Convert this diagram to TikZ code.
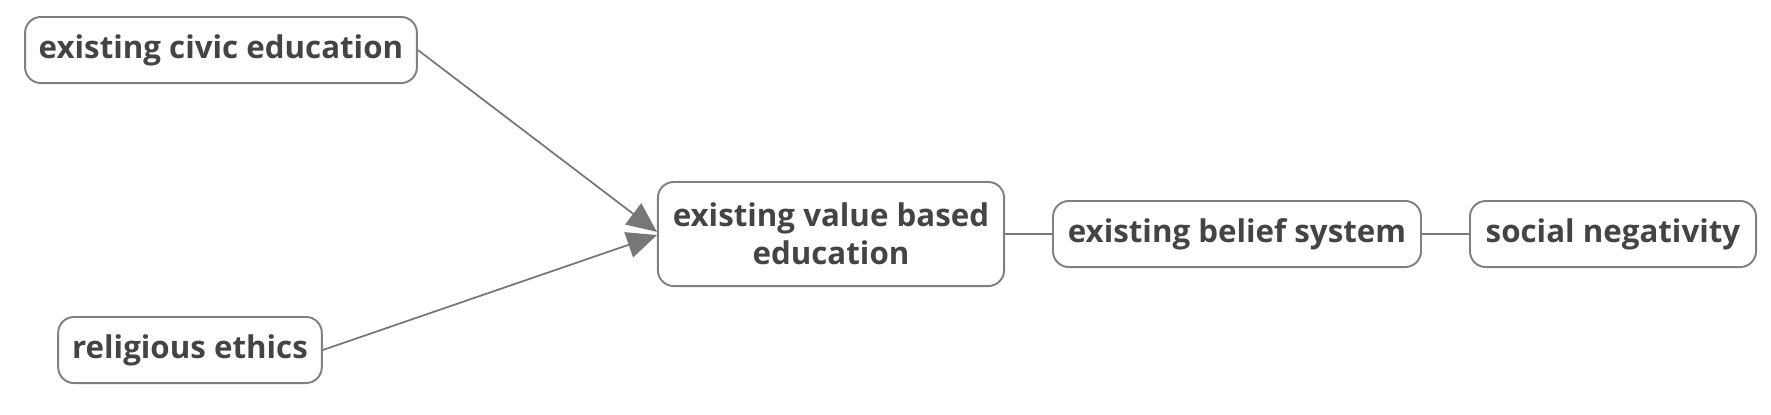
\documentclass[tikz,border=0pt]{standalone}
\usepackage{fontspec}
\setmainfont{Open Sans}
\usetikzlibrary{arrows.meta}
\definecolor{txt}{HTML}{444444}
\definecolor{edge}{HTML}{808080}
\definecolor{conn}{HTML}{777777}
\tikzset{
  box/.style={draw=edge, line width=0.55pt, rounded corners=4.5pt, fill=white,
    text=txt, font=\bfseries\fontsize{8.9}{10.8}\selectfont, align=center,
    inner sep=0pt, minimum height=18.8pt},
  arr/.style={draw=conn, line width=0.5pt, -{Triangle[length=8.5pt,width=7.5pt]}},
  link/.style={draw=conn, line width=0.5pt}
}
\begin{document}
\begin{tikzpicture}[x=0.1mm,y=-0.1mm]
\useasboundingbox (0,0) rectangle (1771,414);
\node[box, minimum width=111.5pt] (civic) at (221,50) {existing civic education};
\node[box, minimum width=75pt] (rel) at (190,350) {religious ethics};
\node[box, minimum width=98.5pt, minimum height=29.6pt] (val) at (831,234) {existing value based\\education};
\node[box, minimum width=104.7pt] (bel) at (1237,234) {existing belief system};
\node[box, minimum width=81.4pt] (soc) at (1613,234) {social negativity};
\draw[arr] (civic.east) -- ([yshift=0.6pt]val.west);
\draw[arr] (rel.east) -- ([yshift=-0.3pt]val.west);
\draw[link] (val.east) -- (bel.west);
\draw[link] (bel.east) -- (soc.west);
\end{tikzpicture}
\end{document}
